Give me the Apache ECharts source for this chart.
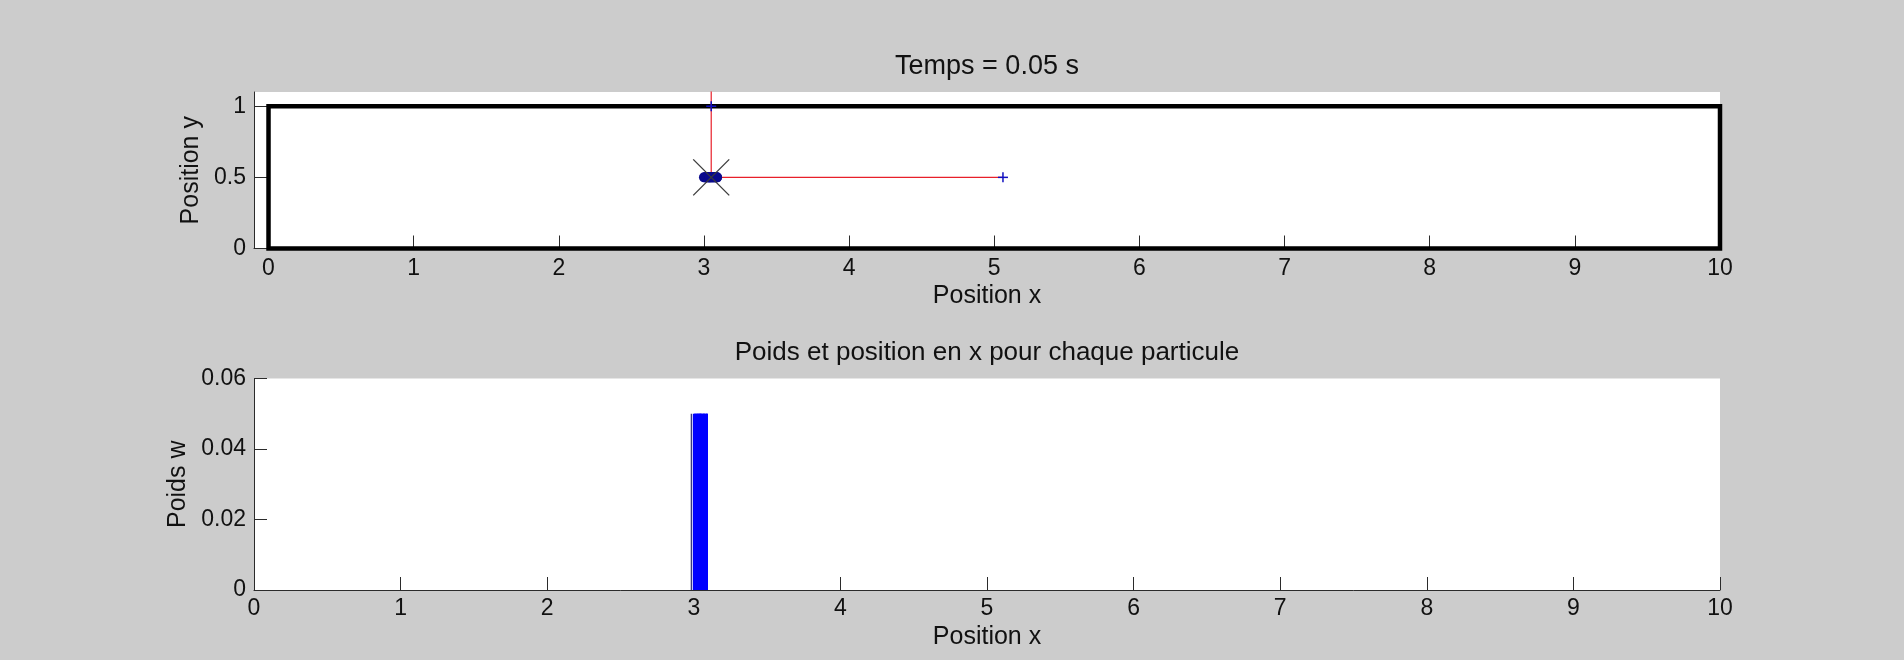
<!DOCTYPE html>
<html>
<head>
<meta charset="utf-8">
<script src="https://cdn.jsdelivr.net/npm/echarts@6/dist/echarts.min.js"></script>
<style>
  html, body { margin: 0; padding: 0; background: #cccccc; }
  #chart { width: 1904px; height: 660px; }
</style>
</head>
<body>
<div id="chart"></div>
<script>
// ---------------- data ----------------
const xTicks = [0, 1, 2, 3, 4, 5, 6, 7, 8, 9, 10];
const yTicksTop = [0, 0.5, 1];
const yTicksBottom = [0, 0.02, 0.04, 0.06];

// corridor walls (thick black rectangle)
const wallX = [0, 10, 10, 0, 0];
const wallY = [0, 0, 1, 1, 0];

// particles (position x, position y, weight)
const particleX = [3.00, 3.01, 3.01, 3.02, 3.02, 3.03, 3.03, 3.04, 3.04, 3.04,
                   3.05, 3.05, 3.06, 3.06, 3.07, 3.07, 3.08, 3.08, 3.09, 3.09];
const particleY = [0.5, 0.5, 0.5, 0.5, 0.5, 0.5, 0.5, 0.5, 0.5, 0.5,
                   0.5, 0.5, 0.5, 0.5, 0.5, 0.5, 0.5, 0.5, 0.5, 0.5];
const particleW = [0.05, 0.05, 0.05, 0.05, 0.05, 0.05, 0.05, 0.05, 0.05, 0.05,
                   0.05, 0.05, 0.05, 0.05, 0.05, 0.05, 0.05, 0.05, 0.05, 0.05];

// estimated position (black X)
const estimateX = [3.05];
const estimateY = [0.5];

// measurement rays (red) and measured points (+)
const rayHX = [3.05, 5.06];
const rayHY = [0.5, 0.5];
const rayVX = [3.05, 3.05];
const rayVY = [0.5, 1.2];
const measureX = [5.06, 3.05];
const measureY = [0.5, 1.0];

// ---------------- chart ----------------
const FONT = 'Liberation Sans, Arial, sans-serif';
const AXIS_COLOR = '#2b2b2b';
const zip = (a, b) => a.map((v, i) => [v, b[i]]);

function xAxisCfg(gridIndex, min, labelMargin) {
  return {
    type: 'value', gridIndex, min, max: 10,
    axisLine: { show: true, onZero: false, lineStyle: { color: AXIS_COLOR, width: 1 } },
    axisTick: { show: true, inside: true, length: 13, customValues: xTicks, lineStyle: { color: AXIS_COLOR, width: 1 } },
    axisLabel: { customValues: xTicks, margin: labelMargin, fontSize: 23, color: '#111', fontFamily: FONT },
    splitLine: { show: false },
    name: 'Position x', nameLocation: 'middle', nameGap: 35,
    nameTextStyle: { fontSize: 25, color: '#111', fontFamily: FONT }
  };
}
function yAxisCfg(gridIndex, max, ticks, name, nameGap) {
  return {
    type: 'value', gridIndex, min: 0, max,
    axisLine: { show: true, onZero: false, lineStyle: { color: AXIS_COLOR, width: 1 } },
    axisTick: { show: true, inside: true, length: 13, customValues: ticks, lineStyle: { color: AXIS_COLOR, width: 1 } },
    axisLabel: { customValues: ticks, margin: 8, fontSize: 23, color: '#111', fontFamily: FONT },
    splitLine: { show: false },
    name, nameLocation: 'middle', nameGap, nameRotate: 90,
    nameTextStyle: { fontSize: 25, color: '#111', fontFamily: FONT }
  };
}

function crossItem(half, color, width, diagonal) {
  return function (params, api) {
    const p = api.coord([api.value(0), api.value(1)]);
    const lines = diagonal
      ? [[p[0] - half, p[1] - half, p[0] + half, p[1] + half], [p[0] - half, p[1] + half, p[0] + half, p[1] - half]]
      : [[p[0] - half, p[1], p[0] + half, p[1]], [p[0], p[1] - half, p[0], p[1] + half]];
    return {
      type: 'group',
      children: lines.map(l => ({
        type: 'line',
        shape: { x1: l[0], y1: l[1], x2: l[2], y2: l[3] },
        style: { stroke: color, lineWidth: width }
      }))
    };
  };
}

const BAR_HALF = 0.007;
function barItem(params, api) {
  const x = api.value(0), w = api.value(1);
  const p0 = api.coord([x - BAR_HALF, w]);
  const p1 = api.coord([x + BAR_HALF, 0]);
  const children = [{
    type: 'rect',
    shape: { x: p0[0], y: p0[1], width: p1[0] - p0[0], height: p1[1] - p0[1] },
    style: { fill: '#0000ff' }
  }];
  if (params.dataIndex === 0) {
    children.push({
      type: 'line',
      shape: { x1: p0[0] - 1.5, y1: p0[1], x2: p0[0] - 1.5, y2: p1[1] },
      style: { stroke: '#00005a', lineWidth: 1 }
    });
  }
  return { type: 'group', children };
}

const GRID_LEFT = 254, GRID_W = 1466;

const option = {
  backgroundColor: '#cccccc',
  animation: false,
  title: [
    { text: 'Temps = 0.05 s', left: GRID_LEFT + GRID_W / 2, top: 53, textAlign: 'center', padding: 0,
      textStyle: { fontSize: 27, fontWeight: 'normal', color: '#111', fontFamily: FONT } },
    { text: 'Poids et position en x pour chaque particule', left: GRID_LEFT + GRID_W / 2, top: 340, textAlign: 'center', padding: 0,
      textStyle: { fontSize: 26, fontWeight: 'normal', color: '#111', fontFamily: FONT } }
  ],
  grid: [
    { left: GRID_LEFT, top: 92, width: GRID_W, height: 156.5, backgroundColor: '#ffffff', show: true, borderWidth: 0 },
    { left: GRID_LEFT, top: 378.5, width: GRID_W, height: 211.5, backgroundColor: '#ffffff', show: true, borderWidth: 0 }
  ],
  xAxis: [ xAxisCfg(0, -0.1, 9), xAxisCfg(1, 0, 7) ],
  yAxis: [
    yAxisCfg(0, 1.1, yTicksTop, 'Position y', 46),
    yAxisCfg(1, 0.06, yTicksBottom, 'Poids w', 60)
  ],
  series: [
    { type: 'line', xAxisIndex: 0, yAxisIndex: 0, data: zip(wallX, wallY), clip: false,
      symbol: 'none', lineStyle: { color: '#000', width: 4.5, join: 'miter', cap: 'square' }, z: 2 },
    { type: 'line', xAxisIndex: 0, yAxisIndex: 0, data: zip(rayHX, rayHY), clip: true,
      symbol: 'none', lineStyle: { color: '#e8202a', width: 1.2 }, z: 3 },
    { type: 'line', xAxisIndex: 0, yAxisIndex: 0, data: zip(rayVX, rayVY), clip: true,
      symbol: 'none', lineStyle: { color: '#e8202a', width: 1.2 }, z: 3 },
    { type: 'custom', xAxisIndex: 0, yAxisIndex: 0, data: zip(measureX, measureY), clip: false,
      renderItem: crossItem(5, '#1010c0', 1.5, false), z: 4 },
    { type: 'scatter', xAxisIndex: 0, yAxisIndex: 0, data: zip(particleX, particleY),
      symbol: 'circle', symbolSize: 10, itemStyle: { color: '#0a0a8c', opacity: 1 }, z: 5 },
    { type: 'custom', xAxisIndex: 0, yAxisIndex: 0, data: zip(estimateX, estimateY), clip: false,
      renderItem: crossItem(18, '#3a3a3a', 1.3, true), z: 6 },
    { type: 'custom', xAxisIndex: 1, yAxisIndex: 1, data: zip(particleX, particleW),
      renderItem: barItem, z: 2 }
  ]
};

const chart = echarts.init(document.getElementById('chart'), null, { renderer: 'canvas' });
chart.setOption(option);
</script>
</body>
</html>
